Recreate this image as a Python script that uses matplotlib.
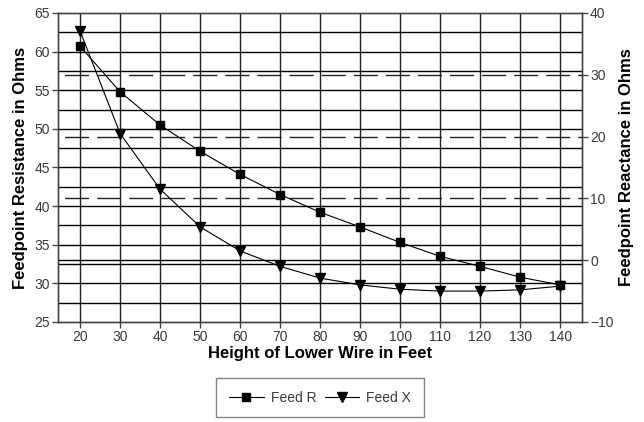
import numpy as np
import matplotlib.pyplot as plt

plt.rcParams['font.family'] = ['Liberation Sans', 'DejaVu Sans']

# Data
height = [20, 30, 40, 50, 60, 70, 80, 90, 100, 110, 120, 130, 140]
feed_r = [60.7, 54.8, 50.5, 47.1, 44.1, 41.5, 39.2, 37.3, 35.3, 33.5, 32.2, 30.8, 29.8]
feed_x = [37.1, 20.5, 11.5, 5.4, 1.5, -1.0, -2.9, -4.0, -4.7, -5.0, -5.0, -4.8, -4.2]

left_ticks = [25, 30, 35, 40, 45, 50, 55, 60, 65]
right_ticks = [-10, 0, 10, 20, 30, 40]

tick_color = '#3a3a3a'

fig = plt.figure(figsize=(6.44, 4.22), dpi=100)
ax = fig.add_axes([0.0908, 0.237, 0.8125, 0.7322])
ax2 = ax.twinx()

ax.set_xlim(14.6, 145.4)
ax.set_ylim(25, 65)
ax2.set_ylim(-10, 40)

# grid: verticals at each height, horizontals every 2.5 ohms on the left scale
for h in height:
    ax.axvline(h, color='#222222', lw=1.0, zorder=1)
for v in np.arange(27.5, 65, 2.5):
    ax.axhline(v, color='black', lw=1.0, zorder=1)
# right-scale gridlines
for v in [10, 20, 30]:
    ax2.axhline(v, color='#222222', lw=1.0, linestyle=(18.4, (17.3, 5.8)), zorder=1)
ax2.axhline(0, color='black', lw=1.0, zorder=1)

lr, = ax.plot(height, feed_r, color='black', lw=0.8, marker='s', markersize=6,
              markerfacecolor='black', markeredgecolor='black', zorder=3, label='Feed R')
lx, = ax2.plot(height, feed_x, color='black', lw=0.8, marker='v', markersize=7.5,
               markerfacecolor='black', markeredgecolor='black', zorder=3, label='Feed X')

ax.set_xticks(height)
ax.set_yticks(left_ticks)
ax2.set_yticks(right_ticks)
for a in (ax, ax2):
    a.tick_params(length=4, width=1, color='#444444', labelsize=10, labelcolor=tick_color, pad=2)
    for s in a.spines.values():
        s.set_color('#444444')
        s.set_linewidth(1)

ax.set_xlabel('Height of Lower Wire in Feet', fontsize=12, fontweight='bold', labelpad=1)
ax.set_ylabel('Feedpoint Resistance in Ohms', fontsize=12, fontweight='bold', labelpad=5)
ax2.set_ylabel('Feedpoint Reactance in Ohms', fontsize=12, fontweight='bold', labelpad=4)

leg = fig.legend(handles=[lr, lx], loc='upper center', bbox_to_anchor=(0.497, 0.104),
                 ncol=2, frameon=True, fancybox=False, edgecolor='#666666',
                 fontsize=10, handlelength=2.5, columnspacing=0.6, handletextpad=0.5,
                 borderpad=0.9, borderaxespad=0)
for t in leg.get_texts():
    t.set_color(tick_color)
leg.get_frame().set_linewidth(1)

fig.savefig('out.png', dpi=100)
